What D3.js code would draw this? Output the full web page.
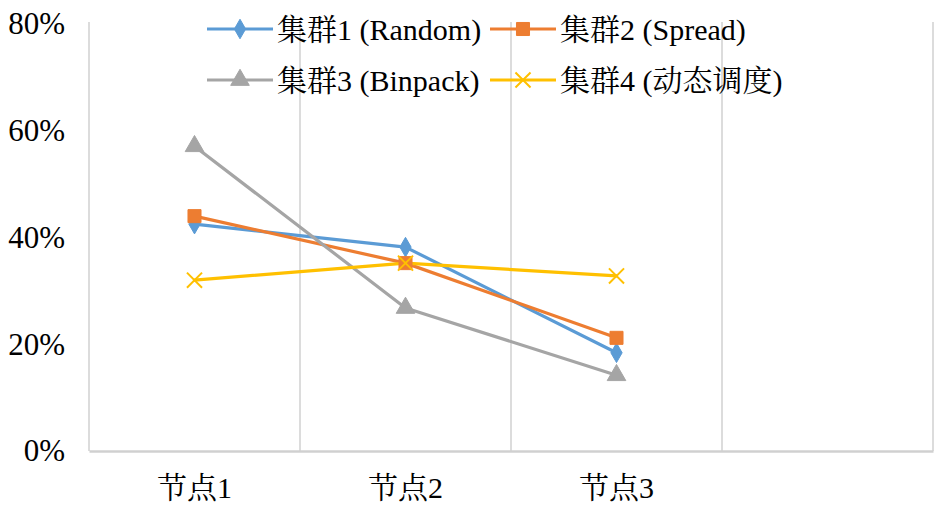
<!DOCTYPE html>
<html><head><meta charset="utf-8">
<script src="https://cdn.jsdelivr.net/npm/d3@7"></script>
<style>
html,body{margin:0;padding:0;background:#fff;}
svg{display:block;}
</style></head>
<body>
<svg id="chart" width="945" height="514"></svg>
<script>
const categories = ["节点1", "节点2", "节点3", ""];
const seriesNames = ["集群1 (Random)", "集群2 (Spread)", "集群3 (Binpack)", "集群4 (动态调度)"];
const random  = [0.425, 0.382, 0.184];
const spread  = [0.440, 0.352, 0.212];
const binpack = [0.571, 0.268, 0.142];
const dynamic = [0.320, 0.352, 0.328];
const yTicks = [0, 0.2, 0.4, 0.6, 0.8];

const FONT = "'Liberation Serif', 'Noto Serif CJK SC', serif";
const colors = ["#5B9BD5", "#ED7D31", "#A5A5A5", "#FFC000"];
const symbols = [d3.symbolDiamond, d3.symbolSquare, d3.symbolTriangle, d3.symbolX];
const symSizes = [110, 170, 150, 150];
const allSeries = [random, spread, binpack, dynamic];

const svg = d3.select("#chart");
const mLeft = 89, mRight = 933, mTop = 22, mBottom = 451;

const x = d3.scaleBand().domain(categories).range([mLeft, mRight]).paddingInner(0).paddingOuter(0);
const y = d3.scaleLinear().domain([0, 0.8]).range([mBottom, 24]);

// vertical gridlines at category boundaries
const bounds = categories.map(c => x(c)).concat([x.range()[1]]);
svg.append("g").selectAll("line").data(bounds).join("line")
  .attr("x1", d => d).attr("x2", d => d)
  .attr("y1", mTop).attr("y2", mBottom)
  .attr("stroke", "#d0d0d0").attr("stroke-width", 1.5);

// y axis labels
const yAxis = svg.append("g").attr("transform", `translate(${mLeft},0)`)
  .call(d3.axisLeft(y).tickValues(yTicks).tickFormat(d3.format(".0%")).tickSize(0).tickPadding(24));
yAxis.select(".domain").remove();
yAxis.attr("font-family", null);
yAxis.selectAll("text").style("font-size", "31px").style("font-family", FONT).style("fill", "#000");

// x axis
const xAxis = svg.append("g").attr("transform", `translate(0,${mBottom})`)
  .call(d3.axisBottom(x).tickSize(0).tickPadding(26));
xAxis.attr("font-family", null);
xAxis.select(".domain").attr("stroke", "#d0d0d0").attr("stroke-width", 2.5);
xAxis.selectAll("text").style("font-size", "30px").style("font-family", FONT).style("fill", "#000");

// series lines
const line = d3.line().x((d, i) => x(categories[i]) + x.bandwidth() / 2).y(d => y(d));
allSeries.forEach((s, k) => {
  svg.append("path").datum(s).attr("d", line)
    .attr("fill", "none").attr("stroke", colors[k]).attr("stroke-width", 3.2)
    .attr("stroke-linejoin", "round").attr("stroke-linecap", "round");
});
allSeries.forEach((s, k) => {
  svg.append("g").selectAll("path").data(s).join("path")
    .attr("transform", (d, i) => `translate(${x(categories[i]) + x.bandwidth() / 2},${y(d)})`)
    .attr("d", d3.symbol().type(symbols[k]).size(symSizes[k]))
    .attr("fill", k === 3 ? "none" : colors[k])
    .attr("stroke", colors[k])
    .attr("stroke-width", k === 3 ? 2 : 1);
});

// legend
const legendPos = [[207, 29], [490, 29], [207, 80], [490, 80]];
seriesNames.forEach((name, k) => {
  const [lx, ly] = legendPos[k];
  const g = svg.append("g").attr("transform", `translate(${lx},${ly})`);
  g.append("line").attr("x1", 0).attr("x2", 66).attr("y1", 0).attr("y2", 0)
    .attr("stroke", colors[k]).attr("stroke-width", 3.2);
  g.append("path").attr("transform", "translate(33,0)")
    .attr("d", d3.symbol().type(symbols[k]).size(symSizes[k]))
    .attr("fill", k === 3 ? "none" : colors[k])
    .attr("stroke", colors[k]).attr("stroke-width", k === 3 ? 2 : 1);
  g.append("text").attr("x", 70).attr("y", 0).attr("dy", "0.35em")
    .style("font-size", "30px").style("font-family", FONT).style("fill", "#000").text(name);
});
</script>
</body></html>
